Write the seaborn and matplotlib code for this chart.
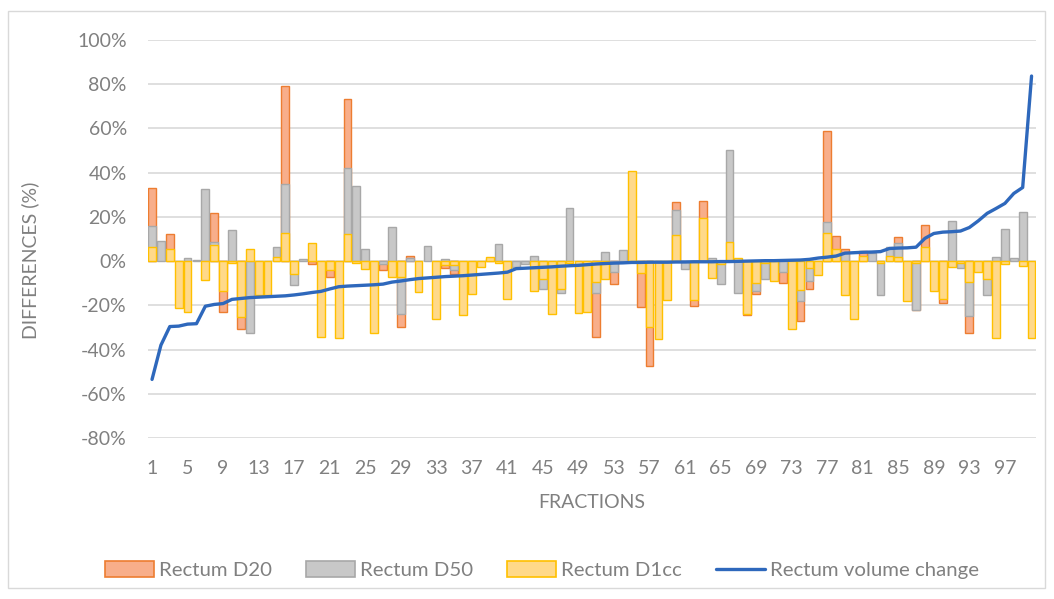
import numpy as np
import pandas as pd
import matplotlib
matplotlib.use("Agg")
import matplotlib.pyplot as plt
from matplotlib.patches import Patch, Rectangle
from matplotlib.lines import Line2D
import seaborn as sns

nan = np.nan

fractions = list(range(1, 101))

rectum_d20 = [
    33, nan, 12.2, nan, nan, nan, nan, 21.9, -23, nan,
    -30.5, nan, nan, nan, nan, 79.2, nan, nan, -1.5, nan,
    -7.1, nan, 73.2, nan, nan, nan, -4, nan, -29.7, 2.3,
    nan, nan, nan, -2.9, -5.9, nan, nan, nan, 1, nan,
    nan, nan, nan, nan, nan, nan, nan, nan, nan, nan,
    -34.5, nan, -10.4, nan, nan, -20.7, -47.4, nan, nan, 26.8,
    nan, -20.2, 27.3, nan, nan, nan, nan, -24.4, -15.1, nan,
    nan, -10.1, nan, -27, -12.8, nan, 59, 11.5, 5.4, nan,
    4.5, nan, nan, nan, 10.7, nan, -22.2, 16.3, nan, -18.9,
    nan, nan, -32.7, nan, nan, nan, nan, nan, nan, nan,
]

rectum_d50 = [
    16, 9.2, nan, nan, 1.5, 0.5, 32.6, 8.7, nan, 14,
    nan, -32.7, nan, nan, 6.5, 34.8, -10.9, 0.9, nan, nan,
    nan, nan, 42.2, 33.9, 5.3, nan, -1.5, 15.5, -23.7, 1.2,
    nan, 6.8, nan, 0.8, -4, nan, nan, nan, nan, 7.7,
    nan, -2.6, -1.5, 2.4, -12.4, nan, -14.3, 23.8, nan, nan,
    -14.6, 3.9, -4.8, 5, nan, nan, nan, nan, nan, 23.1,
    -3.6, nan, nan, 1.5, -10.3, 50.2, -14.2, nan, -13.4, -8.3,
    nan, -4.8, nan, -18.1, -9, nan, 17.8, nan, 4.2, nan,
    nan, 3.5, -15.5, 6.2, 8.4, nan, -21.9, nan, nan, nan,
    18.2, -3.3, -24.7, nan, -15.4, 2, 14.3, 1.2, 22.3, nan,
]

rectum_d1cc = [
    6.3, nan, 5.4, -21.1, -22.9, nan, -8.6, 7.4, -13.6, -0.8,
    -25.2, 5.3, -15.4, -15.4, 2, 12.8, -5.9, nan, 8, -34.2,
    -3.8, -34.7, 12.2, -0.8, -3.6, -32.4, nan, -7.4, -7.4, nan,
    -13.9, nan, -26.1, -1.8, -1.8, -24.4, -15.1, -2.6, 2, -0.8,
    -17.3, nan, nan, -13.4, -8.3, -23.7, -12.4, -1, -23.4, -22.9,
    -9.4, -8.3, nan, nan, 40.9, -5.6, -29.7, -35.4, -17.6, 11.8,
    nan, -17.6, 19.3, -7.5, -1.5, 8.7, 1.5, -23.7, -9.8, -1,
    -8.9, nan, -30.5, -13.1, -3.3, -6.3, 12.8, 5.7, -15.5, -26.4,
    2.4, nan, -1, 2.3, 2, -17.9, -1, 6.5, -13.6, -17.3,
    -2.6, -1, -9.4, -4.8, -8.1, -34.7, -1.5, nan, -2.3, -34.7,
]

volume_change = [
    -53.5, -38, -29.6, -29.4, -28.5, -28.3, -20.4, -19.6, -19.2, -17.3,
    -16.9, -16.5, -16.3, -16.1, -15.9, -15.7, -15.3, -14.8, -14.2, -13.7,
    -12.6, -11.6, -11.3, -11.1, -10.9, -10.7, -10.4, -9.5, -9.0, -8.4,
    -7.9, -7.6, -7.3, -7.0, -6.8, -6.6, -6.3, -6.0, -5.7, -5.4,
    -5.0, -3.4, -3.2, -3.0, -2.8, -2.6, -2.3, -2.1, -1.9, -1.6,
    -1.3, -1.1, -0.9, -0.8, -0.6, -0.6, -0.5, -0.5, -0.5, -0.4,
    -0.4, -0.3, -0.3, -0.3, -0.2, -0.2, -0.1, 0.0, 0.1, 0.2,
    0.2, 0.3, 0.4, 0.5, 0.8, 1.4, 1.8, 2.3, 3.6, 3.8,
    4.0, 4.1, 4.3, 5.7, 5.9, 6.0, 6.3, 10.3, 12.5, 13.1,
    13.3, 13.6, 15.2, 18.2, 21.6, 23.8, 26.1, 30.6, 33.3, 83.7,
]

series_names = ["Rectum D20", "Rectum D50", "Rectum D1cc"]
line_name = "Rectum volume change"
y_ticks = list(range(-80, 101, 20))
x_ticks = list(range(1, 101, 4))

df = pd.DataFrame({
    "fraction": fractions,
    "Rectum D20": rectum_d20,
    "Rectum D50": rectum_d50,
    "Rectum D1cc": rectum_d1cc,
    "Rectum volume change": volume_change,
})

fills = {"Rectum D20": "#F8AE8A", "Rectum D50": "#C8C8C8", "Rectum D1cc": "#FFD98A"}
edges = {"Rectum D20": "#ED7D31", "Rectum D50": "#A8A8A8", "Rectum D1cc": "#FFC000"}
line_color = "#2E68BC"
text_color = "#808080"
grid_color = "#D9D9D9"

sns.set_theme(style="white")
plt.rcParams["font.family"] = ["Lato", "DejaVu Sans"]

fig = plt.figure(figsize=(10.54, 5.99), dpi=100)
ax = fig.add_axes([147.6 / 1054, 1 - 438 / 599, (1036 - 147.6) / 1054, (438 - 40) / 599])

for name in series_names:
    sns.barplot(data=df, x="fraction", y=name, native_scale=True, ax=ax,
                color=fills[name], edgecolor=edges[name], linewidth=1.0,
                width=0.88, errorbar=None, saturation=1, zorder=3)

sns.lineplot(data=df, x="fraction", y=line_name, ax=ax, color=line_color,
             linewidth=2.4, zorder=5)

ax.set_xlim(0.5, 100.5)
ax.set_ylim(-80, 100)
ax.set_yticks(y_ticks)
ax.set_yticklabels([f"{v}%" for v in y_ticks])
ax.set_xticks(x_ticks)
ax.set_xticklabels([str(v) for v in x_ticks])
ax.tick_params(axis="y", length=0, pad=15, labelsize=14, labelcolor=text_color)
ax.tick_params(axis="x", length=0, pad=16, labelsize=14, labelcolor=text_color)
ax.set_xlabel("")
ax.set_ylabel("")
for s in ax.spines.values():
    s.set_visible(False)
ax.yaxis.grid(True, color=grid_color, linewidth=1.2, zorder=0)
ax.xaxis.grid(False)
ax.set_axisbelow(True)

fig.text(592 / 1054, 1 - 503 / 599, "FRACTIONS", ha="center", va="center",
         fontsize=14, color=text_color)
fig.text(30 / 1054, 1 - 260 / 599, "DIFFERENCES (%)", ha="center", va="center",
         rotation=90, fontsize=14, color=text_color)

handles = [Patch(facecolor=fills[n], edgecolor=edges[n], linewidth=1.2, label=n)
           for n in series_names]
handles.append(Line2D([0], [0], color=line_color, linewidth=2.4, label=line_name))
fig.legend(handles=handles, loc="center", bbox_to_anchor=(542 / 1054, 1 - 570 / 599),
           ncol=4, frameon=False, fontsize=14.7, labelcolor=text_color,
           handlelength=2.4, handleheight=0.8, handletextpad=0.25, columnspacing=1.65)

fig.patches.append(Rectangle((8 / 1054, 1 - 588 / 599), (1045 - 8) / 1054, (588 - 11) / 599,
                             transform=fig.transFigure, fill=False,
                             edgecolor=grid_color, linewidth=1.0))

fig.savefig("out.png", dpi=100)
